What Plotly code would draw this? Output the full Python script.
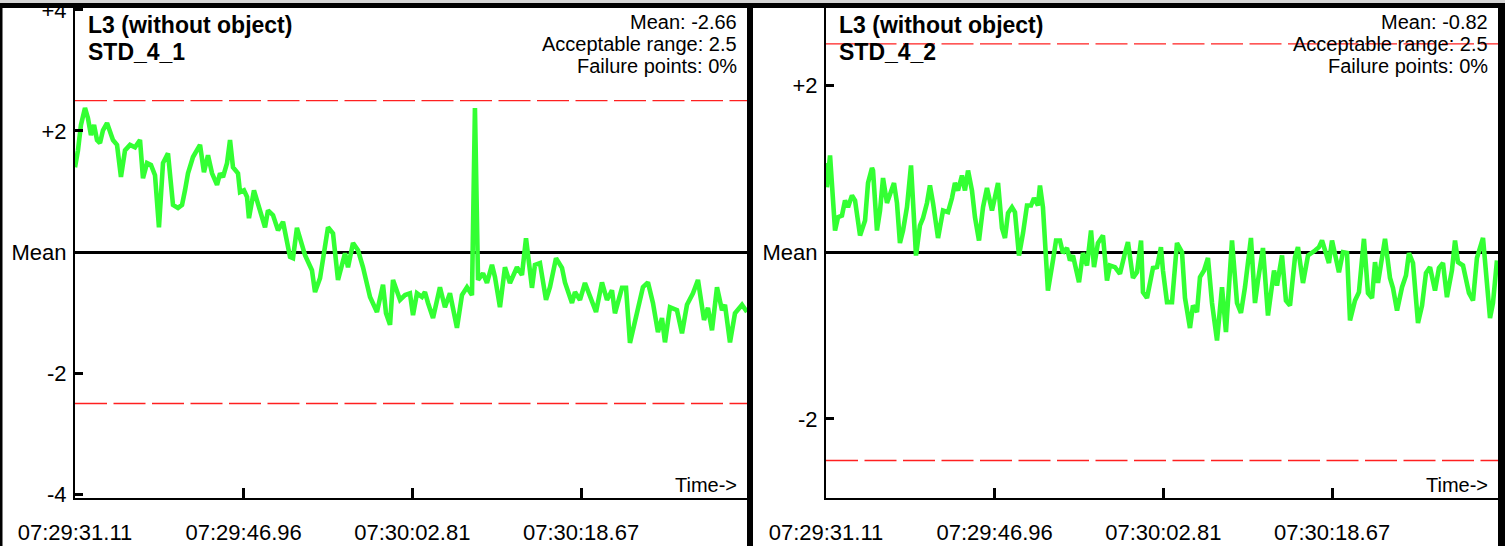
import plotly.graph_objects as go

# ---- axis labelling -------------------------------------------------------
tick_secs = [0.0, 15.85, 31.70, 47.56]
tick_times = ["07:29:31.11", "07:29:46.96", "07:30:02.81", "07:30:18.67"]
time_span = 63.16

y_tick_vals = [-4, -2, 0, 2, 4]
y_tick_text = ["-4", "-2", "Mean", "+2", "+4"]

acceptable_range = 2.5

# ---- panel 1: STD_4_1 (deviation from mean, seconds from start) ----------
title_1 = ["L3 (without object)", "STD_4_1"]
stats_1 = ["Mean: -2.66", "Acceptable range: 2.5", "Failure points: 0%"]
t1 = [0.00, 0.28, 0.56, 0.94, 1.22, 1.50, 1.79, 2.07, 2.35, 2.63, 3.01, 3.29,
      3.57, 3.95, 4.32, 4.70, 5.17, 5.64, 6.11, 6.39, 6.77, 7.14, 7.52, 7.89,
      8.27, 8.74, 9.21, 9.68, 10.06, 10.34, 10.62, 11.09, 11.47, 11.75, 12.12,
      12.50, 12.88, 13.35, 13.63, 13.91, 14.29, 14.57, 14.85, 15.32, 15.51,
      15.88, 16.17, 16.35, 16.82, 17.39, 17.86, 18.14, 18.61, 19.08, 19.55,
      20.21, 20.49, 20.86, 21.33, 21.62, 22.27, 22.56, 23.03, 23.50, 23.78,
      24.25, 24.72, 25.38, 25.66, 26.13, 26.60, 27.07, 27.73, 28.38, 28.67,
      28.95, 29.23, 29.61, 29.89, 30.55, 31.02, 31.48, 31.77, 32.14, 32.61,
      32.89, 33.18, 33.65, 34.30, 34.77, 35.24, 35.53, 35.90, 36.37, 36.84,
      37.31, 37.59, 37.88, 38.35, 38.72, 39.19, 39.47, 39.94, 40.41, 40.88,
      41.54, 42.01, 42.39, 42.95, 43.23, 43.70, 44.27, 44.64, 45.21, 45.77,
      46.05, 46.71, 46.99, 47.46, 47.93, 48.40, 48.97, 49.53, 50.00, 50.47,
      50.75, 51.41, 51.79, 52.16, 52.82, 53.38, 53.85, 54.32, 54.79, 55.17,
      55.45, 55.92, 56.58, 57.05, 57.52, 58.08, 58.55, 59.12, 59.49, 59.87,
      60.34, 60.81, 61.09, 61.56, 62.03, 62.69, 63.16]
d1 = [1.40, 1.68, 2.10, 2.38, 2.21, 1.93, 2.10, 1.85, 1.80, 2.01, 2.13, 2.01,
      1.85, 1.77, 1.24, 1.68, 1.77, 1.73, 1.85, 1.22, 1.47, 1.44, 1.27, 0.41,
      1.47, 1.63, 0.78, 0.73, 0.78, 1.02, 1.30, 1.57, 1.68, 1.77, 1.32,
      1.60, 1.30, 1.11, 1.30, 1.24, 1.47, 1.85, 1.40, 1.30, 0.99,
      1.02, 0.91, 0.56, 1.02, 0.66, 0.41, 0.69, 0.61, 0.36, 0.50,
      -0.08, -0.10, 0.40, 0.15, -0.05, -0.30, -0.66, -0.43, 0.03, 0.41,
      0.31, -0.46, -0.02, -0.25, 0.15, 0.03, -0.25, -0.74, -0.99, -0.74,
      -0.54, -1.01, -1.20, -0.46, -0.79, -0.71, -0.68, -1.04, -0.68, -0.74,
      -0.66, -0.84, -1.09, -0.58, -0.91, -0.68, -0.91, -1.25, -0.71, -0.58,
      -0.71, 2.38, -0.46, -0.35, -0.51, -0.21, -0.41, -0.91, -0.25, -0.51,
      -0.25, -0.38, 0.23, -0.59, -0.21, -0.18, -0.79, -0.58, -0.10, -0.26,
      -0.50, -0.84, -0.66, -0.79, -0.51, -0.74, -0.99, -0.50, -0.79, -0.63,
      -1.01, -0.59, -0.59, -1.50, -1.01, -0.58, -0.50, -0.84, -1.32, -1.09,
      -1.49, -0.91, -0.96, -1.34, -0.87, -0.68, -0.46, -1.12, -0.92, -1.29,
      -0.58, -0.96, -0.87, -1.49, -1.01, -0.87, -0.99]

# ---- panel 2: STD_4_2 ------------------------------------------------------
title_2 = ["L3 (without object)", "STD_4_2"]
stats_2 = ["Mean: -0.82", "Acceptable range: 2.5", "Failure points: 0%"]
t2 = [0.00, 0.09, 0.38, 0.85, 1.13, 1.50, 1.79, 2.07, 2.44, 2.73, 3.20, 3.67,
      3.95, 4.32, 4.42, 4.79, 5.08, 5.36, 5.73, 6.02, 6.39, 6.67, 6.95, 7.24,
      7.61, 7.99, 8.18, 8.46, 8.83, 9.12, 9.49, 9.77, 10.06, 10.53, 11.00,
      11.47, 11.84, 12.12, 12.41, 12.78, 13.06, 13.35, 13.72, 14.00, 14.38,
      14.76, 15.13, 15.60, 15.88, 16.17, 16.54, 16.82, 17.11, 17.48, 17.76,
      18.14, 18.52, 18.89, 19.27, 19.55, 19.92, 20.11, 20.39, 20.86, 21.33,
      21.62, 21.99, 22.27, 22.65, 22.93, 23.21, 23.59, 23.78, 24.15, 24.53,
      24.91, 25.19, 25.56, 26.03, 26.41, 26.69, 27.16, 27.63, 28.10, 28.38,
      28.85, 29.23, 29.61, 29.79, 30.17, 30.45, 30.73, 31.11, 31.48, 31.67,
      32.05, 32.52, 32.99, 33.46, 33.74, 34.21, 34.49, 34.87, 35.15, 35.53,
      35.90, 36.28, 36.75, 37.22, 37.59, 38.16, 38.63, 39.00, 39.38, 39.94,
      40.32, 40.60, 41.07, 41.54, 42.11, 42.39, 42.86, 43.23, 43.61, 44.08,
      44.36, 44.83, 45.30, 45.96, 46.33, 46.62, 46.99, 47.27, 47.56, 47.84,
      48.21, 48.59, 48.97, 49.25, 49.72, 50.09, 50.56, 50.94, 51.32, 51.60,
      51.88, 52.54, 53.01, 53.29, 53.67, 54.14, 54.51, 54.79, 55.17, 55.64,
      56.02, 56.39, 56.77, 57.24, 57.61, 57.99, 58.36, 58.83, 59.12, 59.40,
      59.87, 60.43, 60.81, 61.18, 61.75, 62.12, 62.41, 62.69, 63.06]
d2 = [1.07, 0.78, 1.16, 0.26, 0.42, 0.44, 0.62, 0.54, 0.68, 0.62, 0.20, 0.38,
      0.83, 1.01, 0.98, 0.26, 0.50, 0.89, 0.59, 0.68, 0.83, 0.59, 0.11, 0.26,
      0.54, 1.04, 0.54, -0.04, 0.32, 0.41, 0.59, 0.80, 0.59, 0.17, 0.50,
      0.48, 0.65, 0.83, 0.74, 0.92, 0.74, 0.98, 0.74, 0.42, 0.14,
      0.54, 0.77, 0.50, 0.66, 0.83, 0.29, 0.17, 0.47, 0.54, 0.48,
      -0.04, 0.23, 0.56, 0.56, 0.65, 0.56, 0.80, 0.54, -0.46, -0.10,
      0.14, 0.14, -0.01, 0.05, -0.10, -0.04, -0.22, -0.36, -0.01, -0.16,
      0.26, -0.18, 0.11, 0.20, -0.34, -0.16, -0.18, -0.26, -0.01, 0.12,
      -0.31, -0.24, 0.14, -0.48, -0.55, -0.36, -0.19, -0.18, 0.06, -0.22,
      -0.60, -0.60, 0.11, 0.00, -0.55, -0.91, -0.64, -0.72, -0.30, -0.22,
      -0.07, -0.61, -1.06, -0.42, -0.96, 0.14, -0.61, -0.73, -0.42, 0.17,
      -0.61, -0.34, 0.05, -0.76, -0.22, -0.40, -0.04, -0.58, -0.64, -0.06,
      0.06, -0.37, -0.04, 0.02, 0.06, 0.14, -0.04, -0.13, 0.14, -0.01,
      -0.24, 0.00, -0.01, -0.82, -0.58, -0.48, 0.16, -0.49, -0.55, -0.12,
      -0.37, 0.16, -0.31, -0.43, -0.70, -0.42, -0.28, -0.01, -0.13, -0.85,
      -0.64, -0.25, -0.18, -0.46, -0.19, -0.13, -0.54, -0.22, 0.14, -0.12,
      -0.16, -0.49, -0.58, -0.07, 0.17, -0.37, -0.79, -0.61, -0.10]

y_range_1 = [-4.06, 4.03]
y_range_2 = [-2.95, 2.93]

# ---- styling ---------------------------------------------------------------
W, H = 1505, 546
FONT = "Liberation Sans, Arial, sans-serif"
GREEN = "#33ff33"
RED = "#ff2020"
y_dom = [48 / H, 538 / H]
x_dom_1 = [75 / W, 747 / W]
x_dom_2 = [826 / W, 1498 / W]

fig = go.Figure()
fig.add_trace(go.Scatter(x=t1, y=d1, mode="lines", xaxis="x", yaxis="y",
                         line=dict(color=GREEN, width=4.6), hoverinfo="skip"))
fig.add_trace(go.Scatter(x=t2, y=d2, mode="lines", xaxis="x2", yaxis="y2",
                         line=dict(color=GREEN, width=4.6), hoverinfo="skip"))


def x_axis(domain, anchor):
    return dict(domain=domain, anchor=anchor, range=[0, time_span],
                automargin=False, ticklabeloverflow="allow",
                tickmode="array", tickvals=tick_secs, ticktext=tick_times,
                ticks="inside", ticklen=10, tickwidth=3, tickcolor="black",
                showline=True, linecolor="black", linewidth=2,
                showgrid=False, zeroline=False, ticklabelstandoff=14,
                tickfont=dict(family=FONT, size=22, color="black"))


def y_axis(domain, anchor, rng):
    return dict(domain=domain, anchor=anchor, range=rng,
                automargin=False, ticklabeloverflow="allow",
                tickmode="array", tickvals=y_tick_vals, ticktext=y_tick_text,
                ticks="inside", ticklen=8, tickwidth=3, tickcolor="black",
                showline=True, linecolor="black", linewidth=2,
                showgrid=False, zeroline=True, zerolinecolor="black",
                zerolinewidth=3, ticklabelstandoff=2,
                tickfont=dict(family=FONT, size=22, color="black"))


fig.update_layout(
    template="none",
    width=W, height=H,
    margin=dict(l=0, r=0, t=0, b=0, pad=0, autoexpand=False),
    paper_bgcolor="white", plot_bgcolor="white",
    showlegend=False,
    xaxis=x_axis(x_dom_1, "y"),
    yaxis=y_axis(y_dom, "x", y_range_1),
    xaxis2=x_axis(x_dom_2, "y2"),
    yaxis2=y_axis(y_dom, "x2", y_range_2),
)

# acceptable-range limits
for xr, yr in (("x", "y"), ("x2", "y2")):
    for lim in (acceptable_range, -acceptable_range):
        fig.add_shape(type="line", xref=f"{xr} domain", yref=yr,
                      x0=0, x1=1, y0=lim, y1=lim,
                      line=dict(color=RED, width=1.4, dash="32px,6.5px"))

# panel frame: top bar, outer edges and centre divider
frame = [
    dict(x0=0, x1=1, y0=1 - 3 / H, y1=1, fillcolor="#d4d4d4"),
    dict(x0=0, x1=1, y0=1 - 8 / H, y1=1 - 3 / H, fillcolor="black"),
    dict(x0=0, x1=2.5 / W, y0=0, y1=1 - 3 / H, fillcolor="black"),
    dict(x0=747 / W, x1=753 / W, y0=0, y1=1 - 3 / H, fillcolor="black"),
    dict(x0=1498 / W, x1=1, y0=0, y1=1 - 3 / H, fillcolor="black"),
]
for f in frame:
    fig.add_shape(type="rect", xref="paper", yref="paper", layer="above",
                  line=dict(width=0), **f)

# panel captions
for xd, yd, title, stats in (("x domain", "y domain", title_1, stats_1),
                             ("x2 domain", "y2 domain", title_2, stats_2)):
    for i, line in enumerate(title):
        fig.add_annotation(xref=xd, yref=yd, x=0, y=1, xanchor="left",
                           yanchor="middle", xshift=11, yshift=-17 - 27 * i,
                           text=f"<b>{line}</b>", showarrow=False,
                           font=dict(family=FONT, size=23, color="black"))
    for i, line in enumerate(stats):
        fig.add_annotation(xref=xd, yref=yd, x=1, y=1, xanchor="right",
                           yanchor="middle", xshift=-8, yshift=-14 - 22 * i,
                           text=line, showarrow=False,
                           font=dict(family=FONT, size=20, color="black"))
    fig.add_annotation(xref=xd, yref=yd, x=1, y=0, xanchor="right",
                       yanchor="middle", xshift=-8, yshift=13,
                       text="Time->", showarrow=False,
                       font=dict(family=FONT, size=20, color="black"))

fig.write_html("out.html")
